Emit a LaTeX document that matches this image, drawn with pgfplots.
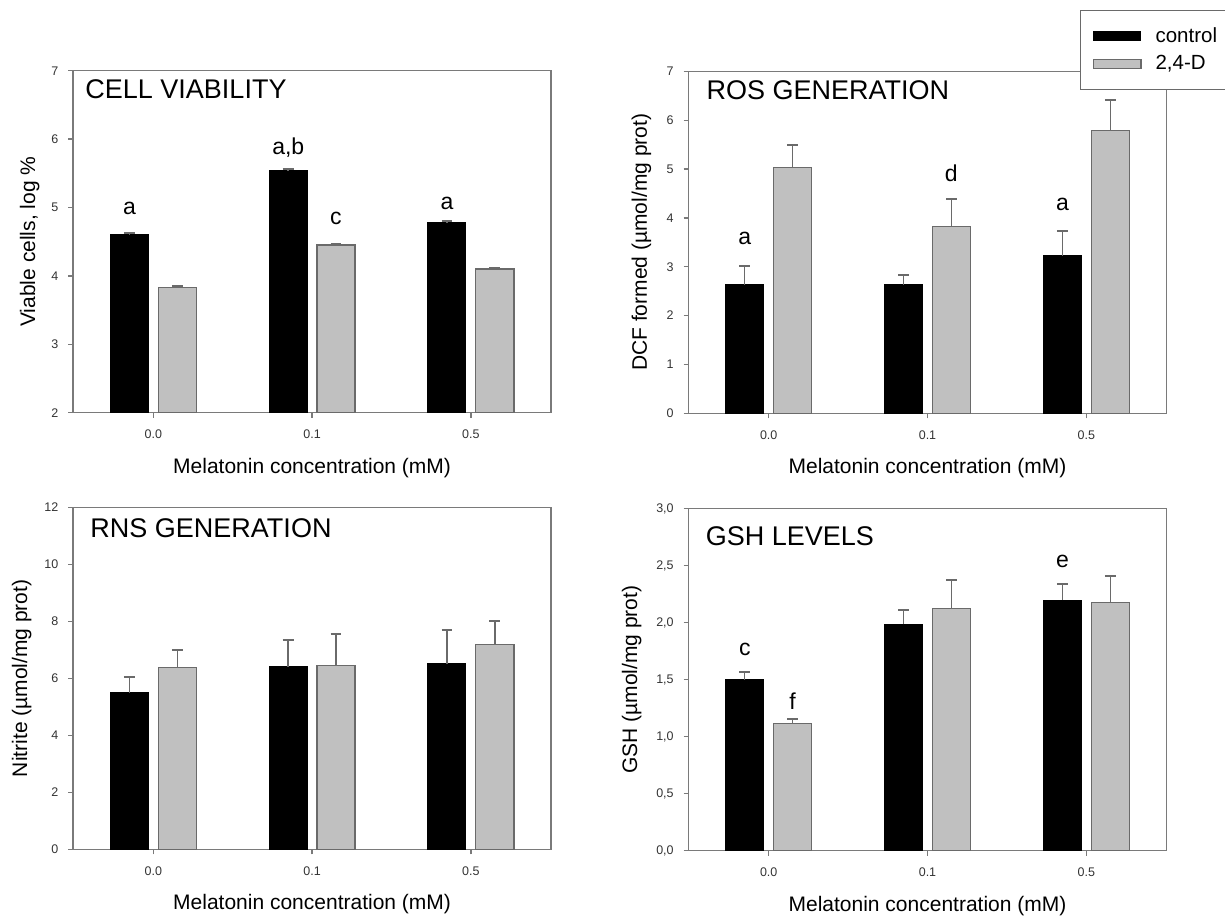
\documentclass[border=0pt]{standalone}
\usepackage{fontspec}
\setmainfont{Liberation Sans}
\usepackage{pgfplots}
\pgfplotsset{compat=1.18}
\definecolor{barg}{HTML}{C0C0C0}
\definecolor{edgeg}{HTML}{6A6A6A}
\definecolor{axg}{HTML}{7A7A7A}
\definecolor{errg}{HTML}{6A6A6A}
\tikzset{
  lett/.style={font=\fontsize{11.5}{13}\selectfont, anchor=center, inner sep=0pt},
  ttl/.style={anchor=west, font=\fontsize{13.5}{16}\selectfont, inner sep=0pt},
}
\pgfplotsset{
  panel/.style={
    scale only axis, width=239pt, height=171pt,
    xmin=-0.505, xmax=2.505,
    xtick={0,1,2}, xticklabels={0.0,0.1,0.5},
    xtick pos=lower, ytick pos=left,
    tick align=outside, major tick length=2.5pt,
    axis line style={draw=axg, line width=0.65pt},
    every tick/.style={draw=axg, line width=0.65pt},
    tick label style={font=\fontsize{6.25}{7}\selectfont, text=black!80},
    /pgf/number format/assume math mode=true,
    xticklabel style={yshift=-2.5pt},
    yticklabel style={xshift=-1.4pt},
    label style={font=\fontsize{10.5}{12}\selectfont},
    xlabel={Melatonin concentration (mM)},
    xlabel style={at={(axis description cs:0.5,-0.161)}, anchor=center},
    legend image code/.code={\draw[##1] (0pt,-2.3pt) rectangle (23.6pt,2.3pt);},
  },
  cbar/.style={ybar, bar width=0.24, bar shift=0pt, fill=black, draw=black, line width=0.5pt, forget plot,
    error bars/.cd, y dir=plus, y explicit, error bar style={draw=errg, line width=0.65pt},
    error mark options={rotate=90, mark size=2.7pt, line width=1pt, draw=errg}},
  gbar/.style={ybar, bar width=0.24, bar shift=0pt, fill=barg, draw=edgeg, line width=0.65pt, forget plot,
    error bars/.cd, y dir=plus, y explicit, error bar style={draw=errg, line width=0.65pt},
    error mark options={rotate=90, mark size=2.7pt, line width=1pt, draw=errg}},
}
\begin{document}
\begin{tikzpicture}
\path[use as bounding box] (0pt,0pt) rectangle (612.5pt,-458.5pt);

% Panel 1: cell viability
\begin{axis}[panel, at={(36.55pt,-206.35pt)}, anchor=south west,
  ymin=2, ymax=7, ytick={2,3,4,5,6,7},
  ylabel={Viable cells, log \%},
  ylabel style={at={(axis description cs:-0.091,0.5)}, anchor=center}]
\addplot[cbar] coordinates {(-0.151,4.60) +- (0,0.03) (0.849,5.54) +- (0,0.03) (1.849,4.78) +- (0,0.03)};
\addplot[gbar] coordinates {(0.151,3.83) +- (0,0.02) (1.151,4.45) +- (0,0.02) (2.151,4.10) +- (0,0.02)};
\node[ttl] at (rel axis cs:0.025,0.947) {CELL VIABILITY};
\node[lett] at (axis cs:-0.15,4.99) {a};
\node[lett] at (axis cs:0.85,5.87) {a,b};
\node[lett] at (axis cs:1.15,4.84) {c};
\node[lett] at (axis cs:1.85,5.06) {a};
\end{axis}

% Panel 2: ROS generation
\begin{axis}[panel, at={(344.25pt,-206.65pt)}, anchor=south west,
  ymin=0, ymax=7, ytick={0,1,2,3,4,5,6,7},
  ylabel={DCF formed (µmol/mg prot)},
  ylabel style={at={(axis description cs:-0.0985,0.5)}, anchor=center},
  legend style={at={(0.8187,1.180)}, anchor=north west, draw=edgeg, line width=0.6pt,
    font=\fontsize{10.25}{12}\selectfont, inner xsep=6.3pt, inner ysep=7pt,
    row sep=2pt, cells={anchor=west}, nodes={inner ysep=1.5pt},
    /tikz/every odd column/.append style={column sep=5pt}}]
\addplot[cbar] coordinates {(-0.151,2.635) +- (0,0.385) (0.849,2.63) +- (0,0.21) (1.849,3.23) +- (0,0.50)};
\addplot[gbar] coordinates {(0.151,5.03) +- (0,0.47) (1.151,3.83) +- (0,0.555) (2.151,5.79) +- (0,0.63)};
\addlegendimage{fill=black, draw=black, line width=0.5pt}
\addlegendentry{control\hspace{14pt}}
\addlegendimage{fill=barg, draw=edgeg, line width=0.65pt}
\addlegendentry{2,4-D}
\node[ttl] at (rel axis cs:0.037,0.9445) {ROS GENERATION};
\node[lett] at (axis cs:-0.15,3.57) {a};
\node[lett] at (axis cs:1.15,4.92) {d};
\node[lett] at (axis cs:1.85,4.28) {a};
\end{axis}

% Panel 3: RNS generation
\begin{axis}[panel, at={(36.55pt,-424.65pt)}, anchor=south west,
  ymin=0, ymax=12, ytick={0,2,4,6,8,10,12},
  ylabel={Nitrite (µmol/mg prot)},
  ylabel style={at={(axis description cs:-0.1075,0.5)}, anchor=center}]
\addplot[cbar] coordinates {(-0.151,5.50) +- (0,0.53) (0.849,6.40) +- (0,0.95) (1.849,6.51) +- (0,1.17)};
\addplot[gbar] coordinates {(0.151,6.385) +- (0,0.615) (1.151,6.455) +- (0,1.085) (2.151,7.19) +- (0,0.83)};
\node[ttl] at (rel axis cs:0.0355,0.9387) {RNS GENERATION};
\end{axis}

% Panel 4: GSH levels
\begin{axis}[panel, at={(344.25pt,-425.35pt)}, anchor=south west,
  ymin=0, ymax=3, ytick={0,0.5,1,1.5,2,2.5,3},
  yticklabel style={/pgf/number format/.cd, use comma, fixed, fixed zerofill, precision=1},
  ylabel={GSH (µmol/mg prot)},
  ylabel style={at={(axis description cs:-0.119,0.5)}, anchor=center}]
\addplot[cbar] coordinates {(-0.151,1.50) +- (0,0.066) (0.849,1.985) +- (0,0.129) (1.849,2.198) +- (0,0.146)};
\addplot[gbar] coordinates {(0.151,1.117) +- (0,0.038) (1.151,2.125) +- (0,0.251) (2.151,2.18) +- (0,0.231)};
\node[ttl] at (rel axis cs:0.0355,0.921) {GSH LEVELS};
\node[lett] at (axis cs:-0.15,1.77) {c};
\node[lett] at (axis cs:0.15,1.31) {f};
\node[lett] at (axis cs:1.85,2.54) {e};
\end{axis}
\end{tikzpicture}
\end{document}
